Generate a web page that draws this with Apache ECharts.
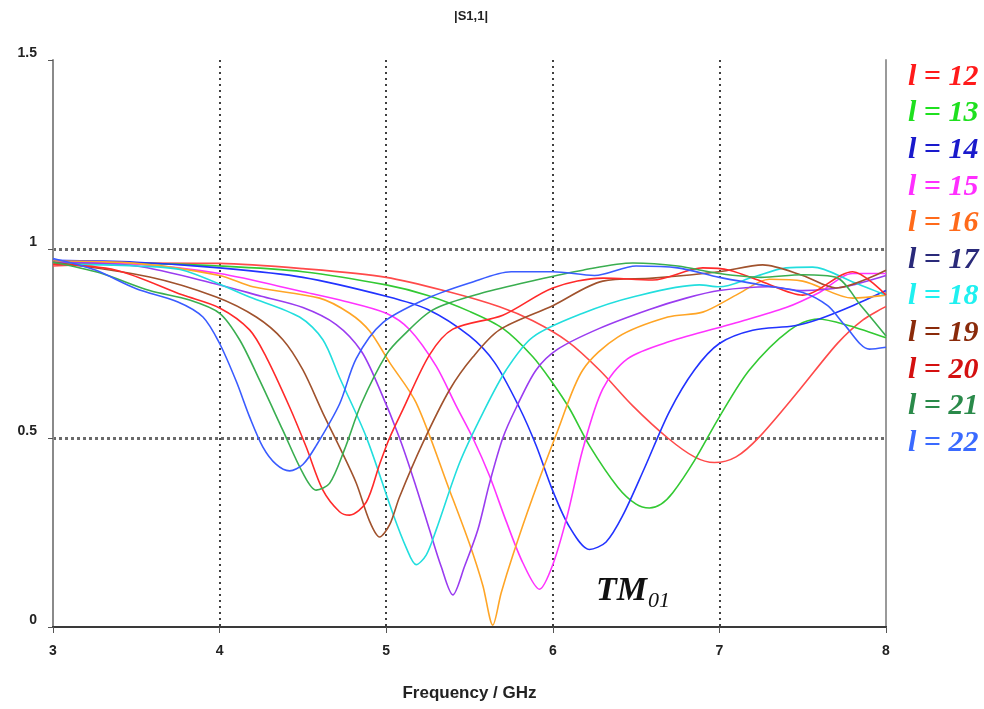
<!DOCTYPE html>
<html><head><meta charset="utf-8">
<script src="https://cdn.jsdelivr.net/npm/echarts@6/dist/echarts.min.js"></script>
<style>html,body{margin:0;padding:0;background:#fff}#c{width:984px;height:709px}</style>
</head><body><div id="c"></div>
<script>
// ---- data (frequency GHz, |S11|) ----
const xTicks = [3, 4, 5, 6, 7, 8];
const yTicks = [0, 0.5, 1, 1.5];
const seriesNames = ['l = 12','l = 13','l = 14','l = 15','l = 16','l = 17','l = 18','l = 19','l = 20','l = 21','l = 22'];
const lineColors = ['#ff4a4a','#33c933','#2233ff','#ff33ff','#ffa526','#9a3cf0','#22dede','#a0522d','#ff2a2a','#3aae50','#3a5cff'];
const legendColors = ['#ff1a1a','#1fe01f','#1a1acc','#ff2eff','#ff6a1a','#2a2a7a','#1ff0f0','#8a2a0a','#d41010','#2a8a4a','#3a6aff'];

const l12 = [[3,0.955],[3.25,0.96],[3.5,0.963],[4,0.962],[4.5,0.948],[5,0.925],[5.38,0.886],[5.68,0.847],[5.88,0.81],[6.09,0.755],[6.28,0.68],[6.48,0.585],[6.69,0.5],[6.85,0.45],[6.97,0.435],[7.1,0.45],[7.24,0.503],[7.48,0.627],[7.71,0.751],[7.86,0.812],[8,0.848]];
const l13 = [[3,0.96],[3.5,0.962],[4,0.955],[4.5,0.94],[5,0.905],[5.25,0.877],[5.5,0.835],[5.7,0.79],[5.88,0.715],[6.0,0.645],[6.1,0.578],[6.22,0.48],[6.39,0.37],[6.5,0.325],[6.58,0.315],[6.65,0.325],[6.72,0.355],[6.85,0.44],[7.0,0.556],[7.18,0.68],[7.42,0.785],[7.59,0.815],[7.78,0.797],[8,0.765]];
const l14 = [[3,0.97],[3.5,0.965],[4,0.95],[4.5,0.925],[5,0.875],[5.25,0.84],[5.5,0.77],[5.65,0.7],[5.8,0.58],[5.9,0.48],[6.0,0.36],[6.1,0.265],[6.22,0.205],[6.32,0.225],[6.42,0.295],[6.55,0.42],[6.7,0.57],[6.85,0.68],[7.0,0.75],[7.2,0.785],[7.45,0.797],[7.6,0.815],[7.8,0.85],[8,0.89]];
const l15 = [[3,0.965],[3.5,0.96],[4,0.935],[4.5,0.887],[4.75,0.862],[5,0.83],[5.14,0.787],[5.3,0.69],[5.42,0.585],[5.52,0.5],[5.62,0.4],[5.72,0.28],[5.82,0.17],[5.92,0.1],[6.0,0.165],[6.09,0.3],[6.18,0.47],[6.3,0.63],[6.45,0.71],[6.7,0.755],[7.1,0.805],[7.4,0.845],[7.6,0.885],[7.8,0.935],[8,0.935]];
const l16 = [[3,0.968],[3.5,0.962],[4,0.93],[4.2,0.9],[4.6,0.87],[4.78,0.83],[4.9,0.783],[5.02,0.7],[5.18,0.593],[5.38,0.362],[5.5,0.22],[5.58,0.11],[5.64,0.005],[5.69,0.09],[5.76,0.19],[5.88,0.344],[6.03,0.52],[6.18,0.68],[6.39,0.767],[6.69,0.82],[6.9,0.833],[7.1,0.878],[7.3,0.92],[7.5,0.915],[7.8,0.87],[8,0.878]];
const l17 = [[3,0.965],[3.5,0.955],[4,0.905],[4.25,0.875],[4.5,0.845],[4.7,0.8],[4.85,0.73],[4.96,0.63],[5.08,0.5],[5.18,0.37],[5.26,0.257],[5.33,0.16],[5.4,0.085],[5.47,0.16],[5.55,0.257],[5.62,0.38],[5.7,0.5],[5.78,0.58],[5.9,0.68],[6.03,0.735],[6.28,0.79],[6.58,0.84],[6.8,0.87],[7.0,0.89],[7.3,0.9],[7.5,0.89],[7.75,0.9],[8,0.93]];
const l18 = [[3,0.96],[3.5,0.955],[3.78,0.944],[4.18,0.873],[4.48,0.82],[4.62,0.76],[4.72,0.66],[4.88,0.503],[5.04,0.3],[5.12,0.21],[5.18,0.165],[5.24,0.19],[5.3,0.257],[5.44,0.434],[5.58,0.566],[5.72,0.68],[5.88,0.767],[6.18,0.83],[6.48,0.873],[6.88,0.905],[7.0,0.9],[7.2,0.925],[7.4,0.95],[7.56,0.952],[7.8,0.913],[8,0.878]];
const l19 = [[3,0.965],[3.58,0.926],[3.98,0.873],[4.22,0.82],[4.38,0.76],[4.5,0.68],[4.62,0.566],[4.72,0.476],[4.82,0.381],[4.9,0.28],[4.96,0.238],[5.02,0.27],[5.08,0.344],[5.22,0.487],[5.38,0.627],[5.52,0.714],[5.68,0.786],[6.0,0.85],[6.3,0.915],[6.6,0.923],[7.0,0.94],[7.26,0.958],[7.5,0.93],[7.7,0.897],[8,0.944]];
const l20 = [[3,0.96],[3.38,0.944],[3.78,0.878],[4.0,0.844],[4.18,0.786],[4.28,0.714],[4.42,0.582],[4.52,0.476],[4.62,0.362],[4.72,0.305],[4.78,0.296],[4.88,0.33],[4.96,0.43],[5.02,0.5],[5.1,0.575],[5.26,0.72],[5.4,0.788],[5.7,0.825],[6.0,0.897],[6.3,0.923],[6.6,0.918],[6.9,0.95],[7.06,0.944],[7.26,0.913],[7.5,0.878],[7.8,0.94],[8,0.878]];
const l21 = [[3,0.965],[3.28,0.937],[3.58,0.89],[3.82,0.865],[4.0,0.83],[4.12,0.76],[4.24,0.653],[4.38,0.52],[4.5,0.407],[4.58,0.362],[4.66,0.38],[4.75,0.47],[4.85,0.59],[5.0,0.72],[5.1,0.77],[5.28,0.839],[5.58,0.884],[5.9,0.918],[6.18,0.944],[6.48,0.963],[6.75,0.955],[7.0,0.935],[7.25,0.925],[7.5,0.932],[7.7,0.925],[7.85,0.85],[8,0.77]];
const l22 = [[3,0.975],[3.25,0.945],[3.5,0.895],[3.75,0.86],[3.9,0.82],[4.0,0.75],[4.1,0.65],[4.18,0.556],[4.26,0.476],[4.34,0.43],[4.42,0.413],[4.5,0.43],[4.58,0.48],[4.72,0.59],[4.82,0.71],[4.98,0.805],[5.25,0.87],[5.5,0.91],[5.75,0.94],[6.0,0.94],[6.25,0.93],[6.5,0.955],[6.75,0.95],[7.0,0.925],[7.25,0.905],[7.5,0.885],[7.65,0.85],[7.75,0.8],[7.9,0.735],[8,0.74]];
const seriesData = [l12, l13, l14, l15, l16, l17, l18, l19, l20, l21, l22];

const chart = echarts.init(document.getElementById('c'), null, {renderer: 'canvas'});
const labelFont = {fontFamily: 'Liberation Sans Narrow, Liberation Sans, Arial', fontWeight: 'bold', fontSize: 14, color: '#222'};
const option = {
  animation: false,
  backgroundColor: '#fff',
  grid: {left: 53, right: 98, top: 60, bottom: 82},
  xAxis: [{
    type: 'value', min: xTicks[0], max: xTicks[xTicks.length - 1], interval: 1,
    axisLine: {show: true, onZero: false, lineStyle: {color: '#3a3a3a', width: 2}},
    axisTick: {show: true, length: 6, lineStyle: {color: '#555', width: 1}},
    axisLabel: Object.assign({margin: 17}, labelFont),
    splitLine: {show: true, showMinLine: false, showMaxLine: false, lineStyle: {color: '#111', type: [2, 4], width: 1.6}},
    name: 'Frequency / GHz', nameLocation: 'middle', nameGap: 58,
    nameTextStyle: {fontFamily: 'Liberation Sans Narrow, Liberation Sans, Arial', fontWeight: 'bold', fontSize: 17, color: '#222'}
  }, {
    type: 'value', position: 'top', min: 3, max: 8,
    axisLine: {show: true, lineStyle: {color: '#3a3a3a', width: 2}},
    axisTick: {show: false}, axisLabel: {show: false}, splitLine: {show: false}
  }],
  yAxis: [{
    type: 'value', min: yTicks[0], max: yTicks[yTicks.length - 1], interval: 0.5,
    axisLine: {show: true, lineStyle: {color: '#8a8a8a', width: 2}},
    axisTick: {show: true, length: 5, lineStyle: {color: '#555'}},
    axisLabel: Object.assign({margin: 16, verticalAlign: 'bottom'}, labelFont),
    splitLine: {show: true, showMinLine: false, showMaxLine: false, lineStyle: {color: '#6a6a6a', type: [3, 3], width: 3}}
  }, {
    type: 'value', position: 'right', min: 0, max: 1.5,
    axisLine: {show: true, lineStyle: {color: '#9a9a9a', width: 2}},
    axisTick: {show: false}, axisLabel: {show: false}, splitLine: {show: false}
  }],
  legend: {
    orient: 'vertical', left: 898, top: 57, itemWidth: 0, itemHeight: 0, itemGap: 6.6,
    selectedMode: false,
    data: seriesNames.map((n, i) => ({name: n, icon: 'rect', textStyle: {color: legendColors[i]}})),
    textStyle: {fontFamily: 'Liberation Serif, DejaVu Serif', fontStyle: 'italic', fontWeight: 'bold', fontSize: 30, lineHeight: 30}
  },
  series: seriesNames.map((n, i) => ({
    name: n, type: 'line', data: seriesData[i], showSymbol: false, symbol: 'none',
    smooth: 0.3,
    lineStyle: {color: lineColors[i], width: 1.6}, itemStyle: {color: lineColors[i]},
    z: 3
  })),
  graphic: [
    {type: 'text', left: 454, top: 10, style: {text: '|S1,1|', fontFamily: 'Liberation Sans Narrow, Liberation Sans, Arial', fontWeight: 'bold', fontSize: 13, fill: '#222'}},
    {type: 'text', left: 596, top: 574, style: {text: 'TM', fontFamily: 'Liberation Serif, DejaVu Serif', fontStyle: 'italic', fontWeight: 'bold', fontSize: 34, fill: '#111'}},
    {type: 'text', left: 648, top: 590, style: {text: '01', fontFamily: 'Liberation Serif, DejaVu Serif', fontStyle: 'italic', fontSize: 22, fill: '#111'}}
  ]
};
chart.setOption(option);
</script></body></html>
